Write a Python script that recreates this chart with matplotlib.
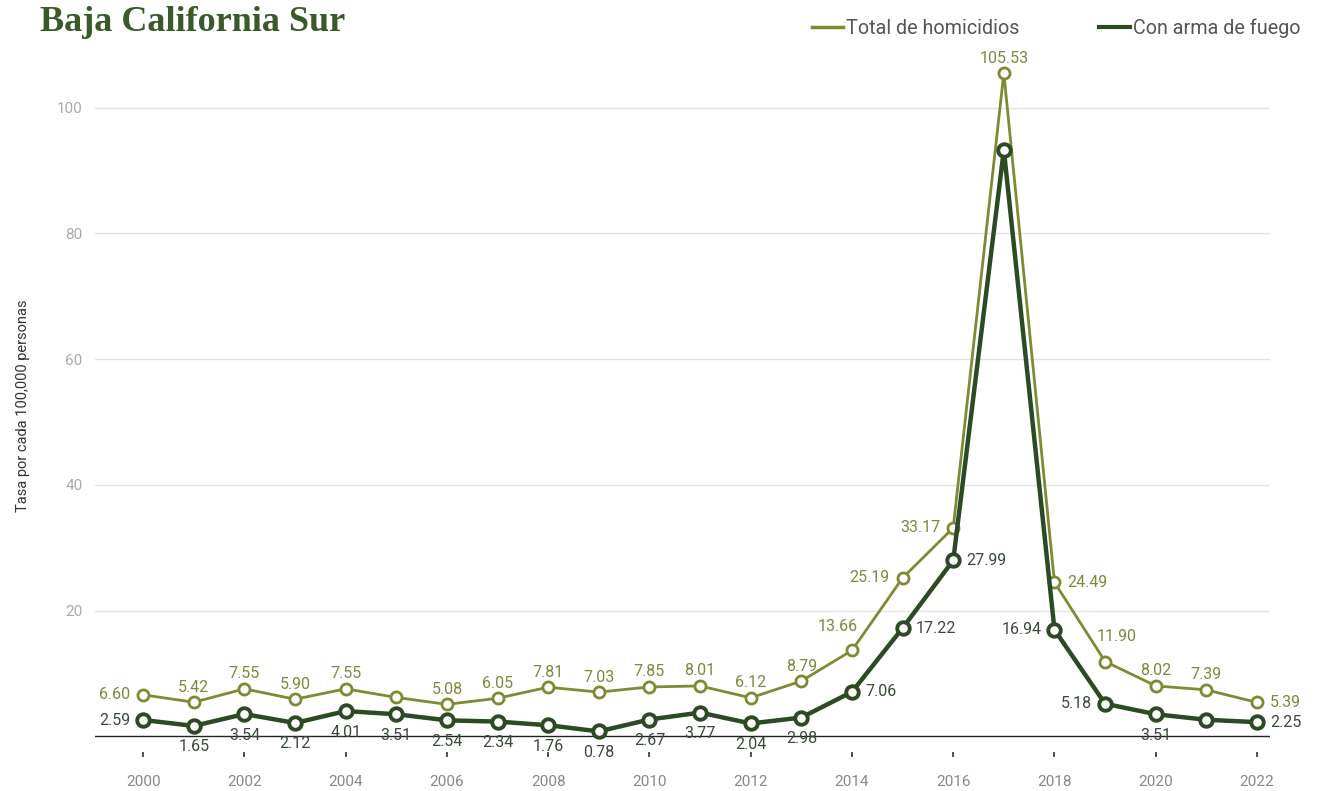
import matplotlib.pyplot as plt
from matplotlib.lines import Line2D

plt.rcParams['font.family'] = ['Roboto', 'DejaVu Sans']

years = list(range(2000, 2023))
total = [6.60, 5.42, 7.55, 5.90, 7.55, 6.18, 5.08, 6.05, 7.81, 7.03, 7.85, 8.01,
         6.12, 8.79, 13.66, 25.19, 33.17, 105.53, 24.49, 11.90, 8.02, 7.39, 5.39]
arma = [2.59, 1.65, 3.54, 2.12, 4.01, 3.51, 2.54, 2.34, 1.76, 0.78, 2.67, 3.77,
        2.04, 2.98, 7.06, 17.22, 27.99, 93.3, 16.94, 5.18, 3.51, 2.63, 2.25]

# where each label goes: u=above, d=below, l=left, r=right, ul/ur=diagonal, None=no label
pos_total = ['l', 'u', 'u', 'u', 'u', None, 'u', 'u', 'u', 'u', 'u', 'u',
             'u', 'u', 'ul', 'l', 'l', 'u', 'r', 'ur', 'u', 'u', 'r']
pos_arma = ['l', 'd', 'd', 'd', 'd', 'd', 'd', 'd', 'd', 'd', 'd', 'd',
            'd', 'd', 'r', 'r', 'r', None, 'l', 'l', 'd', None, 'r']

c_total = '#7b8c33'
c_arma = '#2c4a24'
c_total_txt = '#7b8a3e'
c_arma_txt = '#3a4a3a'

fig = plt.figure(figsize=(13.37, 7.91), dpi=100)
ax = fig.add_axes([0.0711, 0.0493, 0.8789, 0.8748])

ax.plot(years, total, color=c_total, lw=2, marker='o', ms=8, mfc='white',
        mec=c_total, mew=2, zorder=3)
ax.plot(years, arma, color=c_arma, lw=3.2, marker='o', ms=9, mfc='white',
        mec=c_arma, mew=2.8, zorder=4)

offs = {'u': (0, 15, 'center', 'center'), 'd': (0, -21, 'center', 'center'),
        'l': (-13, 0, 'right', 'center'), 'r': (13, 0, 'left', 'center'),
        'ul': (-14, 24, 'center', 'center'), 'ur': (12, 25, 'center', 'center')}


def put_labels(vals, poss, col):
    for x, v, p in zip(years, vals, poss):
        if p is None:
            continue
        dx, dy, ha, va = offs[p]
        ax.annotate(f'{v:.2f}', (x, v), xytext=(dx, dy), textcoords='offset pixels',
                    ha=ha, va=va, fontsize=11.5, color=col, zorder=5)


put_labels(total, pos_total, c_total_txt)
put_labels(arma, pos_arma, c_arma_txt)

ax.axhline(0, color='#222222', lw=1, zorder=2)
ax.set_xlim(1999.05, 2022.26)
ax.set_ylim(-2.5, 107.6)
ax.set_yticks([20, 40, 60, 80, 100])
ax.set_xticks(range(2000, 2023, 2))
ax.grid(axis='y', color='#e3e3e3', lw=1)
ax.set_axisbelow(True)
for s in ax.spines.values():
    s.set_visible(False)
ax.tick_params(axis='y', length=0, pad=9, labelsize=11, labelcolor='#aaaaaa')
ax.tick_params(axis='x', length=3.6, width=1.2, color='#333333', pad=13,
               labelsize=11, labelcolor='#888888')
ax.set_ylabel('Tasa por cada 100,000 personas', fontsize=10.5, color='#333333',
              labelpad=19)

fig.text(0.030, 0.972, 'Baja California Sur', family=['Liberation Serif'],
         fontweight='bold', fontsize=26, color='#3a5a2a', va='center', ha='left')

handles = [Line2D([], [], color=c_total, lw=2.5), Line2D([], [], color=c_arma, lw=3)]
fig.legend(handles, ['Total de homicidios', 'Con arma de fuego'], loc='center right',
           bbox_to_anchor=(0.986, 0.964), ncol=2, frameon=False, fontsize=14.2,
           handlelength=1.6, handletextpad=0.15, columnspacing=4.0,
           labelcolor='#555555')

fig.savefig('out.png', dpi=100)
